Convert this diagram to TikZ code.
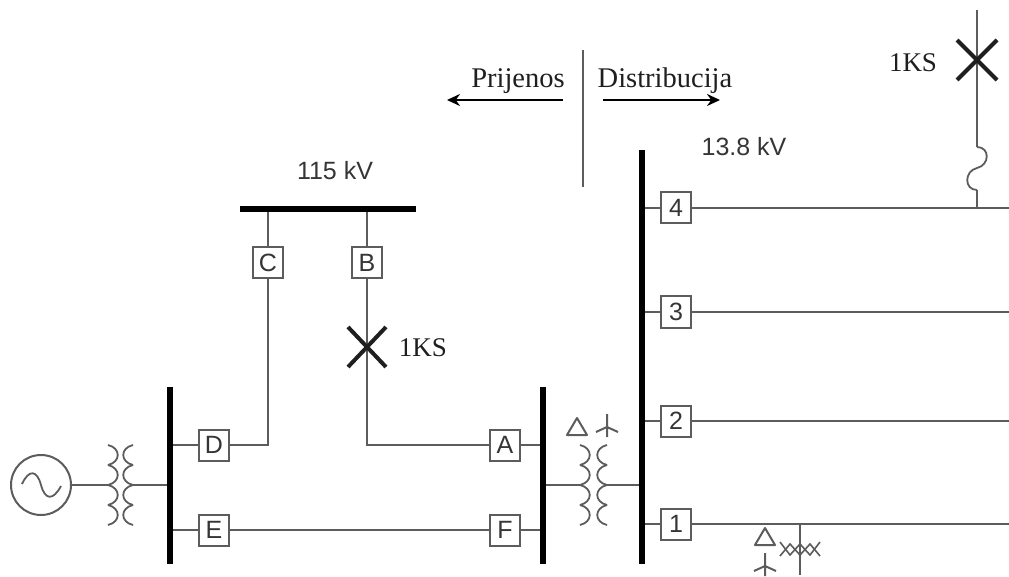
\documentclass[tikz,border=0pt]{standalone}
\usepackage{fontspec}
\setmainfont{Liberation Serif}
\newfontfamily\labelsans{Liberation Sans}
\usetikzlibrary{arrows.meta,calc}
\definecolor{wire}{gray}{0.36}
\definecolor{ink}{gray}{0.12}
\tikzset{
  x=1pt,y=-1pt,
  wireline/.style={draw=wire,line width=2pt},
  bus/.style={draw=black,line width=5.5pt},
  brk/.style={draw=wire,fill=white,line width=2pt,minimum width=30pt,minimum height=31pt,inner sep=0pt,font=\labelsans\fontsize{25}{25}\selectfont,text=ink!90},
  coil/.style={draw=wire,line width=1.8pt},
  kv/.style={font=\labelsans\fontsize{25}{25}\selectfont,text=ink!90},
  serif/.style={font=\fontsize{28.5}{28.5}\selectfont,text=ink,inner sep=0pt},
  serifb/.style={font=\fontsize{27}{27}\selectfont,text=ink,inner sep=0pt},
  fault/.style={draw=ink,line width=4pt},
  flow/.style={draw=black,line width=2.6pt,-{Stealth[length=13pt,width=12pt]}},
  sym/.style={draw=wire,line width=2pt}
}
\newcommand{\coilR}[2]{% cusps at x=#1, bulge right, y start #2
  \foreach \k in {0,20,40,60}{\draw[coil] (#1,#2+\k) .. controls (#1+13,#2+\k+3) and (#1+13,#2+\k+17) .. (#1,#2+\k+20);}}
\newcommand{\coilL}[2]{%
  \foreach \k in {0,20,40,60}{\draw[coil] (#1,#2+\k) .. controls (#1-13,#2+\k+3) and (#1-13,#2+\k+17) .. (#1,#2+\k+20);}}
\newcommand{\deltasym}[2]{\draw[sym,line join=round] (#1,#2-9) -- (#1+10,#2+8) -- (#1-10,#2+8) -- cycle;}
\newcommand{\wyesym}[2]{\draw[sym] (#1,#2-13) -- (#1,#2+10) (#1,#2) -- (#1-11,#2+5) (#1,#2) -- (#1+11,#2+5);}
\begin{document}
\begin{tikzpicture}
\useasboundingbox (0,0) rectangle (1009,577);
% coordinates
\coordinate (b1t) at (170,387); \coordinate (b1b) at (170,564);
\coordinate (b2t) at (543,387); \coordinate (b2b) at (543,564);
\coordinate (b3t) at (642,150); \coordinate (b3b) at (642,564);
\coordinate (b4l) at (240,209); \coordinate (b4r) at (416,209);
\coordinate (cdrop) at (268,209); \coordinate (bdrop) at (367,209);
\coordinate (corner1) at (268,445); \coordinate (corner2) at (367,445);
\coordinate (tapD) at (170,445); \coordinate (tapE) at (170,530);
\coordinate (tapA) at (543,445); \coordinate (tapF) at (543,530);
\coordinate (t1l) at (108,485); \coordinate (t1r) at (133,485); \coordinate (t1b) at (170,485);
\coordinate (t2a) at (543,485); \coordinate (t2l) at (580,485); \coordinate (t2r) at (607,485); \coordinate (t2b) at (642,485);
\foreach \n/\y in {1/524,2/421,3/312,4/208}{
  \coordinate (feedL\n) at (642,\y);
  \coordinate (feedR\n) at (1009,\y);
}
\coordinate (xtop) at (977,10); \coordinate (fuseT) at (977,147); \coordinate (fuseB) at (977,190); \coordinate (tap4) at (977,208);
\coordinate (capT) at (800,524); \coordinate (capB) at (800,575);
% nodes
\node[draw=wire,line width=2pt,circle,minimum size=60pt,inner sep=0pt] (gen) at (41,485) {};
\draw[wire,line width=1.8pt] (22,484) .. controls (29,469) and (37,470) .. (41,485) .. controls (45,500) and (53,501) .. (61,486);
\node[brk] (D) at (214,445) {D};
\node[brk] (E) at (214,530) {E};
\node[brk] (C) at (268,263) {C};
\node[brk] (B) at (367,263) {B};
\node[brk] (A) at (505,445) {A};
\node[brk] (F) at (505,530) {F};
\node[brk] (n1) at (676,524) {1};
\node[brk] (n2) at (676,421) {2};
\node[brk] (n3) at (676,312) {3};
\node[brk] (n4) at (676,208) {4};
\node[kv] (kva) at (335,171) {115 kV};
\node[kv] (kvb) at (744,147) {13.8 kV};
\node[serif] (pr) at (518,81) {Prijenos};
\node[serif] (di) at (665,81) {Distribucija};
\node[serifb] (ks1) at (423,348) {1KS};
\node[serifb] (ks2) at (913,63) {1KS};
\coordinate (xa) at (367,347); \coordinate (xb) at (977,60);
\coordinate (divt) at (583,50); \coordinate (divb) at (583,187);
\coordinate (al) at (563,100); \coordinate (alt) at (447,100);
\coordinate (ar) at (603,100); \coordinate (art) at (720,100);
% wires
\draw[wireline] (gen) -- (t1l);
\draw[wireline] (t1r) -- (t1b);
\draw[wireline] (tapD) -- (D);
\draw[wireline] (tapE) -- (E);
\draw[wireline] (E) -- (F);
\draw[wireline] (F) -- (tapF);
\draw[wireline] (A) -- (tapA);
\draw[wireline] (D) -- (corner1) -- (C);
\draw[wireline] (C) -- (cdrop);
\draw[wireline] (B) -- (bdrop);
\draw[wireline] (B) -- (corner2) -- (A);
\draw[wireline] (t2a) -- (t2l);
\draw[wireline] (t2r) -- (t2b);
\foreach \n in {1,2,3,4}{
  \draw[wireline] (feedL\n) -- (n\n);
  \draw[wireline] (n\n) -- (feedR\n);
}
\draw[wireline] (xtop) -- (fuseT);
\draw[wireline] (fuseB) -- (tap4);
\draw[coil] (fuseT) .. controls (990,147) and (990,165) .. (977,168) .. controls (964,171) and (964,190) .. (fuseB);
\draw[wireline] (divt) -- (divb);
\draw[wireline] (capT) -- (capB);
% buses
\draw[bus] (b1t) -- (b1b);
\draw[bus] (b2t) -- (b2b);
\draw[bus] (b3t) -- (b3b);
\draw[bus] (b4l) -- (b4r);
% transformers
\coilR{108}{445}\coilL{133}{445}
\coilR{580}{445}\coilL{607}{445}
% winding symbols
\deltasym{577}{427}\wyesym{607}{427}
\deltasym{765}{537}\wyesym{765}{566}
% capacitor bank
\draw[sym,line width=1.6pt] (780,542) -- (790,555) -- (800,544) -- (810,555) -- (820,542);
\draw[sym,line width=1.6pt] (780,556) -- (790,544) -- (800,555) -- (810,544) -- (820,556);
% faults
\draw[fault] ($(xa)+(-19,-20)$) -- ($(xa)+(19,20)$);
\draw[fault] ($(xa)+(19,-20)$) -- ($(xa)+(-19,20)$);
\draw[fault] ($(xb)+(-20,-20)$) -- ($(xb)+(20,20)$);
\draw[fault] ($(xb)+(20,-20)$) -- ($(xb)+(-20,20)$);
% flow arrows
\draw[flow] (al) -- (alt);
\draw[flow] (ar) -- (art);
\end{tikzpicture}
\end{document}
